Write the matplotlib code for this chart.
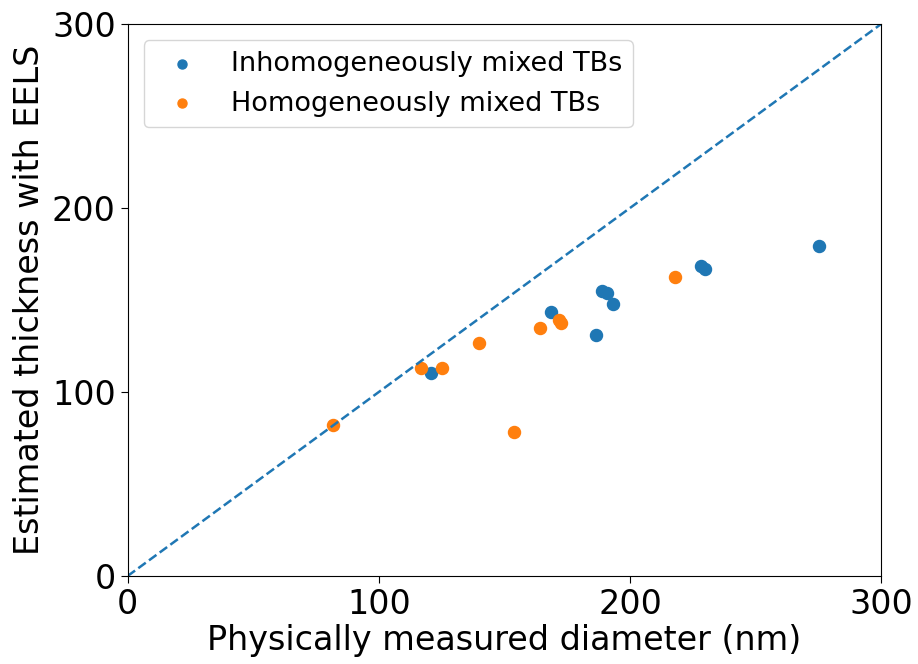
import matplotlib
matplotlib.use("Agg")
import matplotlib.pyplot as plt

# inhomogeneously mixed TBs
inhomo_diam = [120.7, 168.4, 186.5, 189.0, 191.0, 193.4, 228.2, 229.9, 275.4]
inhomo_thick = [110.5, 143.5, 131.0, 155.1, 153.6, 148.0, 168.6, 167.0, 179.2]

# homogeneously mixed TBs
homo_diam = [81.7, 116.6, 125.0, 139.7, 153.7, 164.0, 171.8, 172.6, 217.7]
homo_thick = [82.1, 113.2, 113.2, 126.8, 78.3, 134.6, 139.0, 137.6, 162.3]

fig = plt.figure(figsize=(9.18, 6.64), dpi=100)
ax = fig.add_axes([0.139, 0.1325, 0.821, 0.8315])

ax.scatter(inhomo_diam, inhomo_thick, s=75, color="#1f77b4", label="Inhomogeneously mixed TBs")
ax.scatter(homo_diam, homo_thick, s=75, color="#ff7f0e", label="Homogeneously mixed TBs")
ax.plot([0, 300], [0, 300], "--", color="#1f77b4", linewidth=1.8)

ax.set_xlim(0, 300)
ax.set_ylim(0, 300)
ax.set_xticks([0, 100, 200, 300])
ax.set_yticks([0, 100, 200, 300])
ax.tick_params(labelsize=24, length=5)
ax.set_xlabel("Physically measured diameter (nm)", fontsize=24, labelpad=2)
ax.set_ylabel("Estimated thickness with EELS", fontsize=24)
ax.legend(fontsize=19.5, loc="upper left", markerscale=0.75, borderaxespad=0.6)

fig.savefig("out.png", dpi=100)
